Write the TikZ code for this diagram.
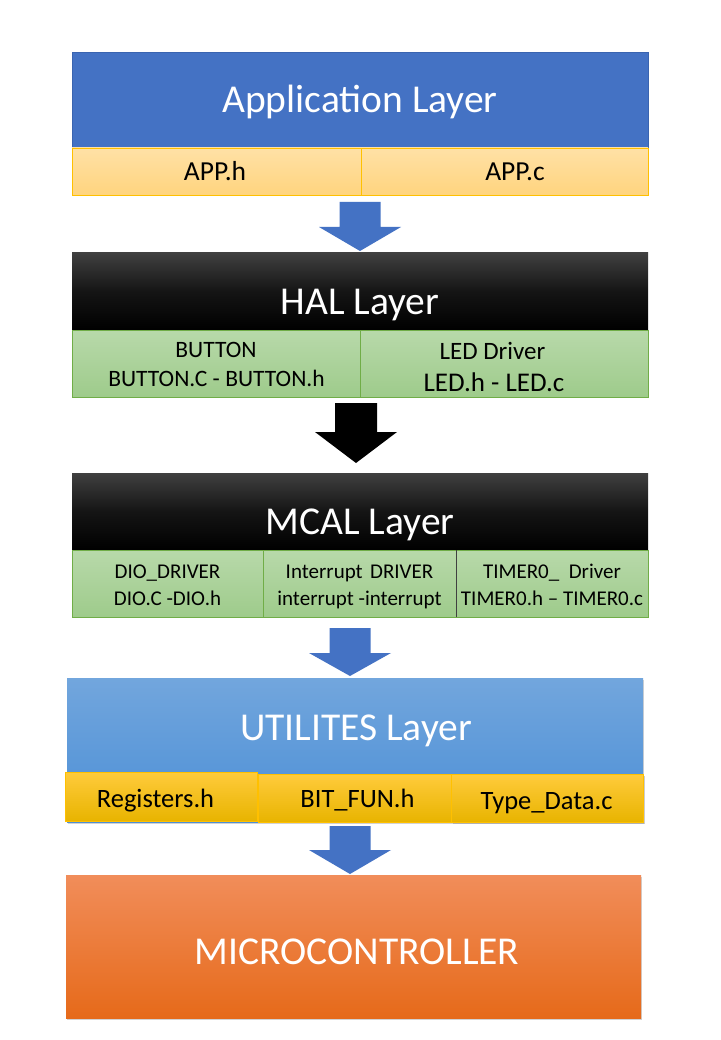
\documentclass[tikz,border=0pt]{standalone}
\usepackage{fontspec}
\setmainfont{Carlito}
\usetikzlibrary{calc,shadows}
\definecolor{appblue}{HTML}{4472C4}
\definecolor{appblueline}{HTML}{3A64B0}
\definecolor{apptop}{HTML}{FFE1A6}
\definecolor{appbot}{HTML}{FFD47E}
\definecolor{gold}{HTML}{FFC000}
\definecolor{greentop}{HTML}{B8D9AA}
\definecolor{greenbot}{HTML}{9ECB8B}
\definecolor{greenline}{HTML}{70AD47}
\definecolor{utiltop}{HTML}{72A6DD}
\definecolor{utilbot}{HTML}{4C8FD6}
\definecolor{goldtop}{HTML}{FFCB3C}
\definecolor{goldbot}{HTML}{E8B400}
\definecolor{microtop}{HTML}{F18D5A}
\definecolor{microbot}{HTML}{E66A1A}
\definecolor{arrowblue}{HTML}{4472C4}
\tikzset{
  x=1pt, y=-1pt,
  box/.style={rectangle, inner sep=0pt, outer sep=0pt, anchor=north west},
  titletext/.style={text=white, inner sep=0pt, font=\fontsize{39.5}{44}\selectfont},
  lbl/.style={inner sep=0pt, anchor=base},
  appcell/.style={box, draw=gold, line width=0.8pt, top color=apptop, bottom color=appbot},
  greencell/.style={box, draw=greenline, line width=0.8pt, top color=greentop, bottom color=greenbot},
  goldcell/.style={box, draw=gold, line width=0.8pt, top color=goldtop, bottom color=goldbot},
  darkbox/.style={box, top color=black!75, bottom color=black, middle color=black!92},
  pics/blockarrow/.style n args={4}{code={
    \fill[pic actions] (0,0) -- (#2,-#3) -- (#1,-#3) -- (#1,-#4) -- (-#1,-#4) -- (-#1,-#3) -- (-#2,-#3) -- cycle;}}
}
\begin{document}
\begin{tikzpicture}
\useasboundingbox[fill=white] (0,0) rectangle (720,1040);
% Application layer
\node[box, fill=appblue, draw=appblueline, line width=0.6pt, minimum width=576pt, minimum height=96pt] (app) at (72,52) {};
\node[titletext] (apptitle) at (360,102) {Application Layer};
\node[appcell, minimum width=289pt, minimum height=47pt] (apph) at (72,148) {};
\node[appcell, minimum width=287pt, minimum height=47pt] (appc) at (361,148) {};
\node[lbl, font=\fontsize{27.5}{30}\selectfont] (apphtext) at (215,181) {APP.h};
\node[lbl, font=\fontsize{27.5}{30}\selectfont] (appctext) at (515,181) {APP.c};
% HAL
\node[darkbox, minimum width=576pt, minimum height=77pt] (hal) at (72,253) {};
\node[titletext] (haltitle) at (360,305) {HAL Layer};
\node[greencell, minimum width=288pt, minimum height=67pt] (button) at (72,330) {};
\node[greencell, minimum width=288pt, minimum height=67pt] (led) at (360,330) {};
\node[lbl, font=\fontsize{23.5}{28}\selectfont] (b1) at (216,357) {BUTTON};
\node[lbl, font=\fontsize{23.5}{28}\selectfont] (b2) at (216.5,386) {BUTTON.C - BUTTON.h};
\node[lbl, font=\fontsize{25}{28}\selectfont] (l1) at (492.5,359) {LED Driver};
\node[lbl, font=\fontsize{27}{30}\selectfont] (l2) at (494,391) {LED.h - LED.c};
% MCAL
\node[darkbox, minimum width=576pt, minimum height=77pt] (mcal) at (72,473) {};
\node[titletext] (mcaltitle) at (360,525) {MCAL Layer};
\node[greencell, minimum width=191pt, minimum height=67pt] (dio) at (72,550) {};
\node[greencell, minimum width=193pt, minimum height=67pt] (intr) at (263,550) {};
\node[greencell, minimum width=192pt, minimum height=67pt] (timer) at (456,550) {};
\draw[black!75, line width=1pt] (timer.north west) -- (timer.south west);
\tikzset{mc/.style={lbl, font=\fontsize{21}{26}\selectfont}}
\node[mc] (d1) at (167.5,578) {DIO\_DRIVER};
\node[mc] (d2) at (167.5,605) {DIO.C -DIO.h};
\node[mc] (i1) at (359.5,578) {Interrupt\hspace{0.35em}DRIVER};
\node[mc] (i2) at (359.5,605) {interrupt -interrupt};
\node[mc] (t1) at (552,578) {TIMER0\_\hspace{0.45em}Driver};
\node[mc] (t2) at (552,605) {TIMER0.h -- TIMER0.c};
% UTILITES
\node[box, top color=utiltop, bottom color=utilbot, drop shadow={shadow xshift=1pt, shadow yshift=-2pt, opacity=0.35}, minimum width=576pt, minimum height=144pt] (util) at (67,678) {};
\node[titletext] (utiltitle) at (356,731) {UTILITES Layer};
\node[goldcell, minimum width=192pt, minimum height=49pt] (reg) at (65,772) {};
\node[goldcell, minimum width=194pt, minimum height=48pt] (bit) at (258,774) {};
\node[goldcell, drop shadow={shadow xshift=1.5pt, shadow yshift=-2pt, opacity=0.4}, minimum width=192pt, minimum height=48pt] (type) at (451,774) {};
\tikzset{gc/.style={lbl, font=\fontsize{26.5}{30}\selectfont}}
\node[gc] (regtext) at (155.5,807.5) {Registers.h};
\node[gc] (bittext) at (357.5,807) {BIT\_FUN.h};
\node[gc] (typetext) at (546.5,809.5) {Type\_Data.c};
% MICROCONTROLLER
\node[box, top color=microtop, bottom color=microbot, drop shadow={shadow xshift=1pt, shadow yshift=-2pt, opacity=0.35}, minimum width=575pt, minimum height=143pt] (micro) at (66,875) {};
\node[titletext] (microtitle) at (357,951.5) {MICROCONTROLLER};
% arrows
\pic[fill=arrowblue] at ([yshift=2pt]hal.north) {blockarrow={20.5}{41}{24}{49}};
\pic[fill=black] at ([xshift=-4pt, yshift=10pt]mcal.north) {blockarrow={21}{41}{31}{60}};
\pic[fill=arrowblue] at ([xshift=-5pt, yshift=2pt]util.north) {blockarrow={20.5}{41}{23}{48}};
\pic[fill=arrowblue] at ([xshift=-3.5pt, yshift=1pt]micro.north) {blockarrow={20.5}{41}{24}{48}};
\end{tikzpicture}
\end{document}
